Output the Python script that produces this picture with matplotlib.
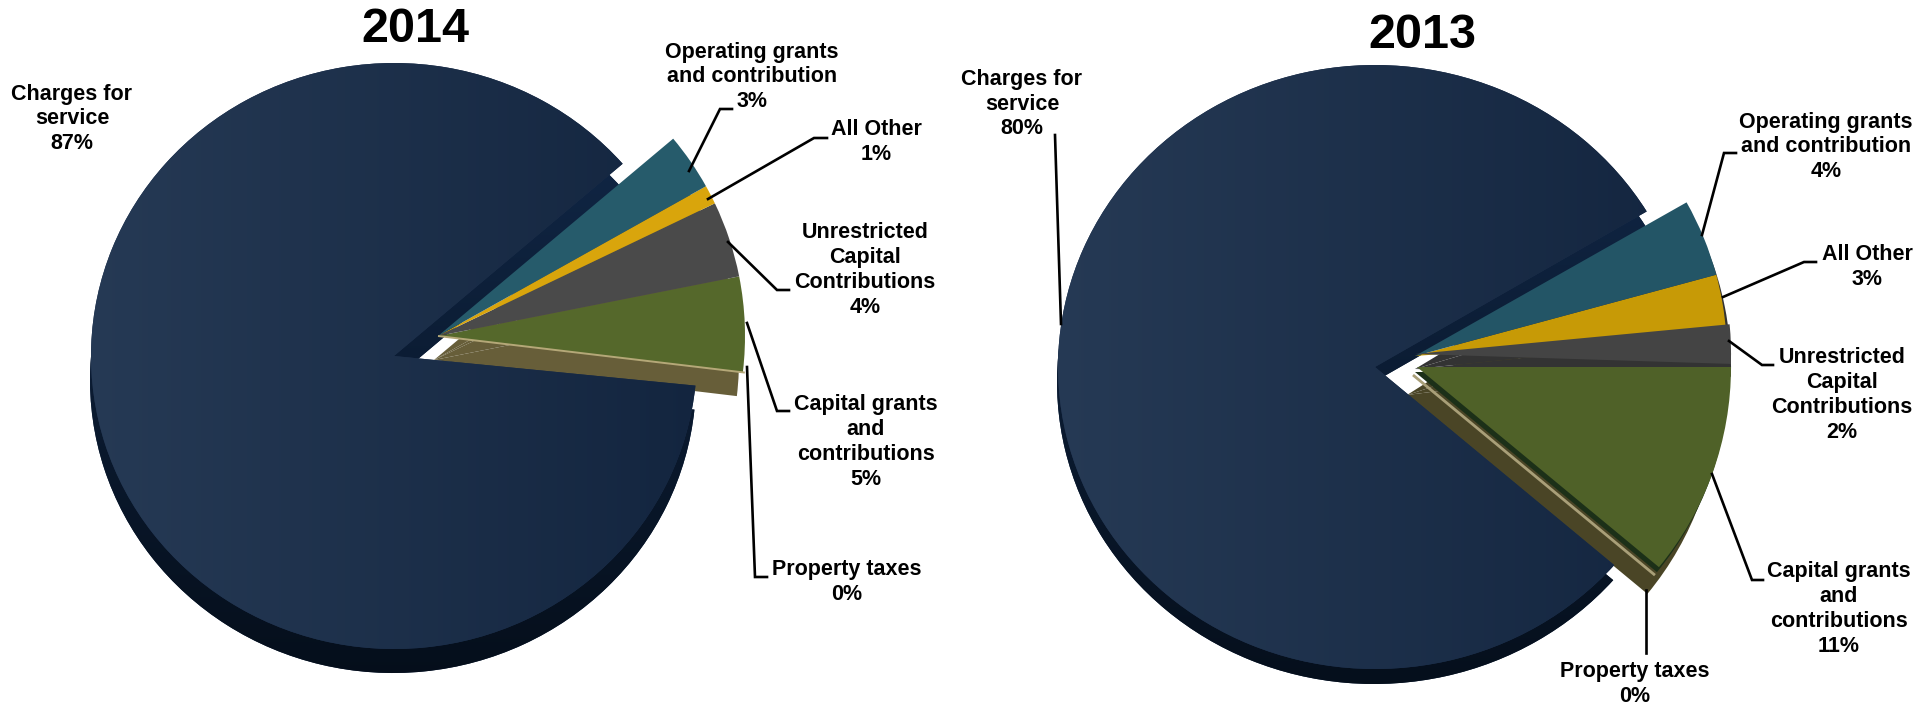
import numpy as np
import matplotlib
matplotlib.use('Agg')
import matplotlib.pyplot as plt
from matplotlib.colors import LinearSegmentedColormap
from matplotlib.transforms import Affine2D

plt.rcParams['font.family'] = ['Liberation Sans', 'DejaVu Sans']

W, H = 1933, 705

# slices go counter-clockwise starting from charges for service
categories = ['Charges for\nservice', 'Property taxes', 'Capital grants\nand\ncontributions',
              'Unrestricted\nCapital\nContributions', 'All Other', 'Operating grants\nand contribution']
values_2014 = [87, 0, 5, 4, 1, 3]
values_2013 = [80, 0, 11, 2, 3, 4]

colors_2014 = [None, '#b5a878', '#55682b', '#4a4a4a', '#d9a50c', '#265b6b']
colors_2013 = [None, '#a99f78', '#4f6128', '#444444', '#c79a06', '#235566']

fig = plt.figure(figsize=(W / 100, H / 100), dpi=100)
ax = fig.add_axes([0, 0, 1, 1])


def slices(values, colors, cx, cy, r, start, z, squash=1.0):
    # one pie layer, slices without a colour stay invisible. cy counts from the top
    cols = [c if c else 'none' for c in colors]
    wedges, _ = ax.pie(values, colors=cols, center=(cx, H - cy), radius=r, startangle=start,
                       wedgeprops={'linewidth': 0})
    tr = Affine2D().translate(-cx, -(H - cy)).scale(1, squash).translate(cx, H - cy) + ax.transData
    for w in wedges:
        w.set_zorder(z)
        w.set_transform(tr)
    return wedges


def shade(wedge, box, c1, c2, z, vertical=False):
    # soft gradient laid over a slice
    cmap = LinearSegmentedColormap.from_list('s', [c1, c2])
    g = np.linspace(0, 1, 256)
    g = g.reshape(-1, 1) if vertical else g.reshape(1, -1)
    im = ax.imshow(g, cmap=cmap, extent=box, aspect='auto', zorder=z, origin='upper')
    im.set_clip_path(wedge)


def only(colors, idx, color=None):
    return [(color or colors[i]) if i in idx else None for i in range(len(colors))]


def main_slice(values, cx, cy, rx, ry, start, wall_dx, wall_dy):
    s = ry / rx
    box = [cx - rx - 10, cx + rx + 10, H - cy - ry - 40, H - cy + ry + 10]
    wall = slices(values, only(values, [0], '#10233f'), cx + wall_dx, cy + wall_dy, rx, start, 1, s)
    shade(wall[0], box, '#122a4c', '#050e1a', 1.1, vertical=True)
    face = slices(values, only(values, [0], '#1d2f4c'), cx, cy, rx, start, 3, s)
    shade(face[0], box, '#263a55', '#13253f', 3.1)


# 2014
main_slice(values_2014, 394, 356, 303, 293, 41, -1, 24)
slices(values_2014, only(colors_2014, [2, 3, 4, 5], '#675e39'), 434, 360, 305, 40, 2)
slices(values_2014, only(colors_2014, [2, 3, 4, 5]), 438, 336, 307, 40, 4)
slices(values_2014, only(colors_2014, [1]), 438, 336, 309, 40, 5)[1].set(edgecolor=colors_2014[1], linewidth=1.4)

# 2013, capital grants and property taxes sit a little away from the other slices
main_slice(values_2013, 1375, 367, 317, 302, 31, -1, 15)
slices(values_2013, only(colors_2013, [2, 3, 4, 5], '#4a4526'), 1407, 395, 312, 32.4, 2)
slices(values_2013, only(colors_2013, [3, 4, 5], '#333333'), 1415, 369, 316, 31, 3.5)
slices(values_2013, only(colors_2013, [4, 5]), 1415, 356, 312, 29.5, 4)
slices(values_2013, only(colors_2013, [3]), 1415, 354, 316, 30.6, 4.1)
slices(values_2013, only(colors_2013, [2], '#1c3018'), 1415, 372, 314, 32.4, 4)
slices(values_2013, only(colors_2013, [1]), 1413, 375, 314, 32.4, 4.2)[1].set(edgecolor=colors_2013[1], linewidth=2)
slices(values_2013, only(colors_2013, [2]), 1417, 367, 314, 32.4, 4.5)

ax.text(415, H - 29, '2014', fontsize=35, fontweight='bold', ha='center', va='center', zorder=8)
ax.text(1422, H - 35, '2013', fontsize=35, fontweight='bold', ha='center', va='center', zorder=8)

# label centres and leader lines for each year
label_pos_2014 = [(72, 119), (847, 582), (866, 442), (865, 270), (876, 142), (752, 77)]
label_pos_2013 = [(1022, 104), (1635, 684), (1839, 609), (1842, 395), (1867, 267), (1826, 147)]
leaders = [
    [(689, 171), (720, 109), (732, 109)],
    [(708, 199), (814, 138), (827, 138)],
    [(728, 242), (777, 290), (789, 290)],
    [(747, 323), (777, 411), (789, 411)],
    [(747, 367), (755, 577), (767, 577)],
    [(1055, 135), (1061, 324)],
    [(1702, 235), (1724, 153), (1736, 153)],
    [(1723, 297), (1804, 262), (1816, 262)],
    [(1729, 341), (1762, 365), (1773, 365)],
    [(1712, 474), (1752, 580), (1763, 580)],
    [(1646, 590), (1646, 653)],
]

for pos, vals in [(label_pos_2014, values_2014), (label_pos_2013, values_2013)]:
    for name, (x, y), v in zip(categories, pos, vals):
        ax.text(x, H - y, '%s\n%d%%' % (name, v), fontsize=15.5, fontweight='bold', ha='center',
                va='center', linespacing=1.24, zorder=8)

for line in leaders:
    xs = [p[0] for p in line]
    ys = [H - p[1] for p in line]
    ax.plot(xs, ys, color='black', lw=1.9, solid_joinstyle='miter', zorder=7)

ax.set_xlim(0, W)
ax.set_ylim(0, H)
ax.set_aspect('equal')
ax.axis('off')

fig.savefig('out.png', dpi=100)
